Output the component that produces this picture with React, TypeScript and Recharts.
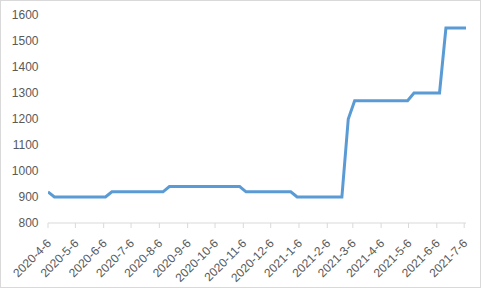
import React from "react";
import { LineChart, Line, XAxis, YAxis } from "recharts";

const dates: string[] = [
  "2020-4-6", "2020-4-13", "2020-4-20", "2020-4-27", "2020-5-4", "2020-5-11", "2020-5-18", "2020-5-25",
  "2020-6-1", "2020-6-8", "2020-6-15", "2020-6-22", "2020-6-29", "2020-7-6", "2020-7-13", "2020-7-20",
  "2020-7-27", "2020-8-3", "2020-8-10", "2020-8-17", "2020-8-24", "2020-8-31", "2020-9-7", "2020-9-14",
  "2020-9-21", "2020-9-28", "2020-10-5", "2020-10-12", "2020-10-19", "2020-10-26", "2020-11-2", "2020-11-9",
  "2020-11-16", "2020-11-23", "2020-11-30", "2020-12-7", "2020-12-14", "2020-12-21", "2020-12-28", "2021-1-4",
  "2021-1-11", "2021-1-18", "2021-1-25", "2021-2-1", "2021-2-8", "2021-2-15", "2021-2-22", "2021-3-1",
  "2021-3-8", "2021-3-17", "2021-3-24", "2021-3-31", "2021-4-7", "2021-4-14", "2021-4-21", "2021-4-28",
  "2021-5-5", "2021-5-12", "2021-5-19", "2021-5-26", "2021-6-2", "2021-6-9", "2021-6-16", "2021-6-23",
  "2021-6-30", "2021-7-8",
];

const prices: number[] = [
  920, 900, 900, 900, 900, 900, 900, 900,
  900, 900, 920, 920, 920, 920, 920, 920,
  920, 920, 920, 940, 940, 940, 940, 940,
  940, 940, 940, 940, 940, 940, 940, 920,
  920, 920, 920, 920, 920, 920, 920, 900,
  900, 900, 900, 900, 900, 900, 900, 1200,
  1270, 1270, 1270, 1270, 1270, 1270, 1270, 1270,
  1270, 1300, 1300, 1300, 1300, 1300, 1550, 1550,
  1550, 1550,
];

const tickDates: string[] = [
  "2020-4-6", "2020-5-6", "2020-6-6", "2020-7-6", "2020-8-6", "2020-9-6", "2020-10-6", "2020-11-6",
  "2020-12-6", "2021-1-6", "2021-2-6", "2021-3-6", "2021-4-6", "2021-5-6", "2021-6-6", "2021-7-6",
];

const yTicks: number[] = [800, 900, 1000, 1100, 1200, 1300, 1400, 1500, 1600];

const toTs = (s: string): number => {
  const [y, m, d] = s.split("-").map(Number);
  return Date.UTC(y, m - 1, d);
};

const fmt = (ts: number): string => {
  const dt = new Date(ts);
  return `${dt.getUTCFullYear()}-${dt.getUTCMonth() + 1}-${dt.getUTCDate()}`;
};

const data = dates.map((d, i) => ({ t: toTs(d), price: prices[i] }));
const xTicks = tickDates.map(toTs);

const FONT = "'Liberation Sans Narrow', 'Liberation Sans', Arial, sans-serif";
const TEXT = "#595959";

const XTick = (props: any) => {
  const { x, y, payload } = props;
  const bx = x + 4;
  const by = y + 14;
  return (
    <text
      x={bx}
      y={by}
      transform={`rotate(-45, ${bx}, ${by})`}
      textAnchor="end"
      fontSize={12}
      fontFamily={FONT}
      fill={TEXT}
    >
      {fmt(payload.value)}
    </text>
  );
};

const YTick = (props: any) => {
  const { x, y, payload } = props;
  return (
    <text x={x} y={y} dy={4.3} textAnchor="end" fontSize={12} fontFamily={FONT} fill={TEXT}>
      {payload.value}
    </text>
  );
};

export default function App() {
  return (
    <div
      style={{
        position: "absolute",
        left: 0,
        top: 0,
        width: 481,
        height: 289,
        background: "#fff",
      }}
    >
      <div
        style={{
          position: "absolute",
          left: 0,
          top: 0,
          width: 481,
          height: 288,
          boxSizing: "border-box",
          border: "1px solid #d9d9d9",
        }}
      />
      <LineChart
        width={481}
        height={289}
        data={data}
        margin={{ top: 15, right: 15, left: 0, bottom: 6 }}
      >
        <XAxis
          dataKey="t"
          type="number"
          domain={[xTicks[0], toTs(dates[dates.length - 1])]}
          ticks={xTicks}
          interval={0}
          height={60}
          axisLine={{ stroke: "#d9d9d9", strokeWidth: 1 }}
          tickLine={{ stroke: "#d9d9d9", strokeWidth: 1 }}
          tickSize={5}
          tickMargin={2}
          tick={<XTick />}
          allowDataOverflow
        />
        <YAxis
          type="number"
          domain={[800, 1600]}
          ticks={yTicks}
          interval={0}
          width={48}
          axisLine={false}
          tickLine={false}
          tickSize={0}
          tickMargin={9.5}
          tick={<YTick />}
        />
        <Line
          type="linear"
          dataKey="price"
          stroke="#5B9BD5"
          strokeWidth={3}
          dot={false}
          isAnimationActive={false}
        />
      </LineChart>
    </div>
  );
}
